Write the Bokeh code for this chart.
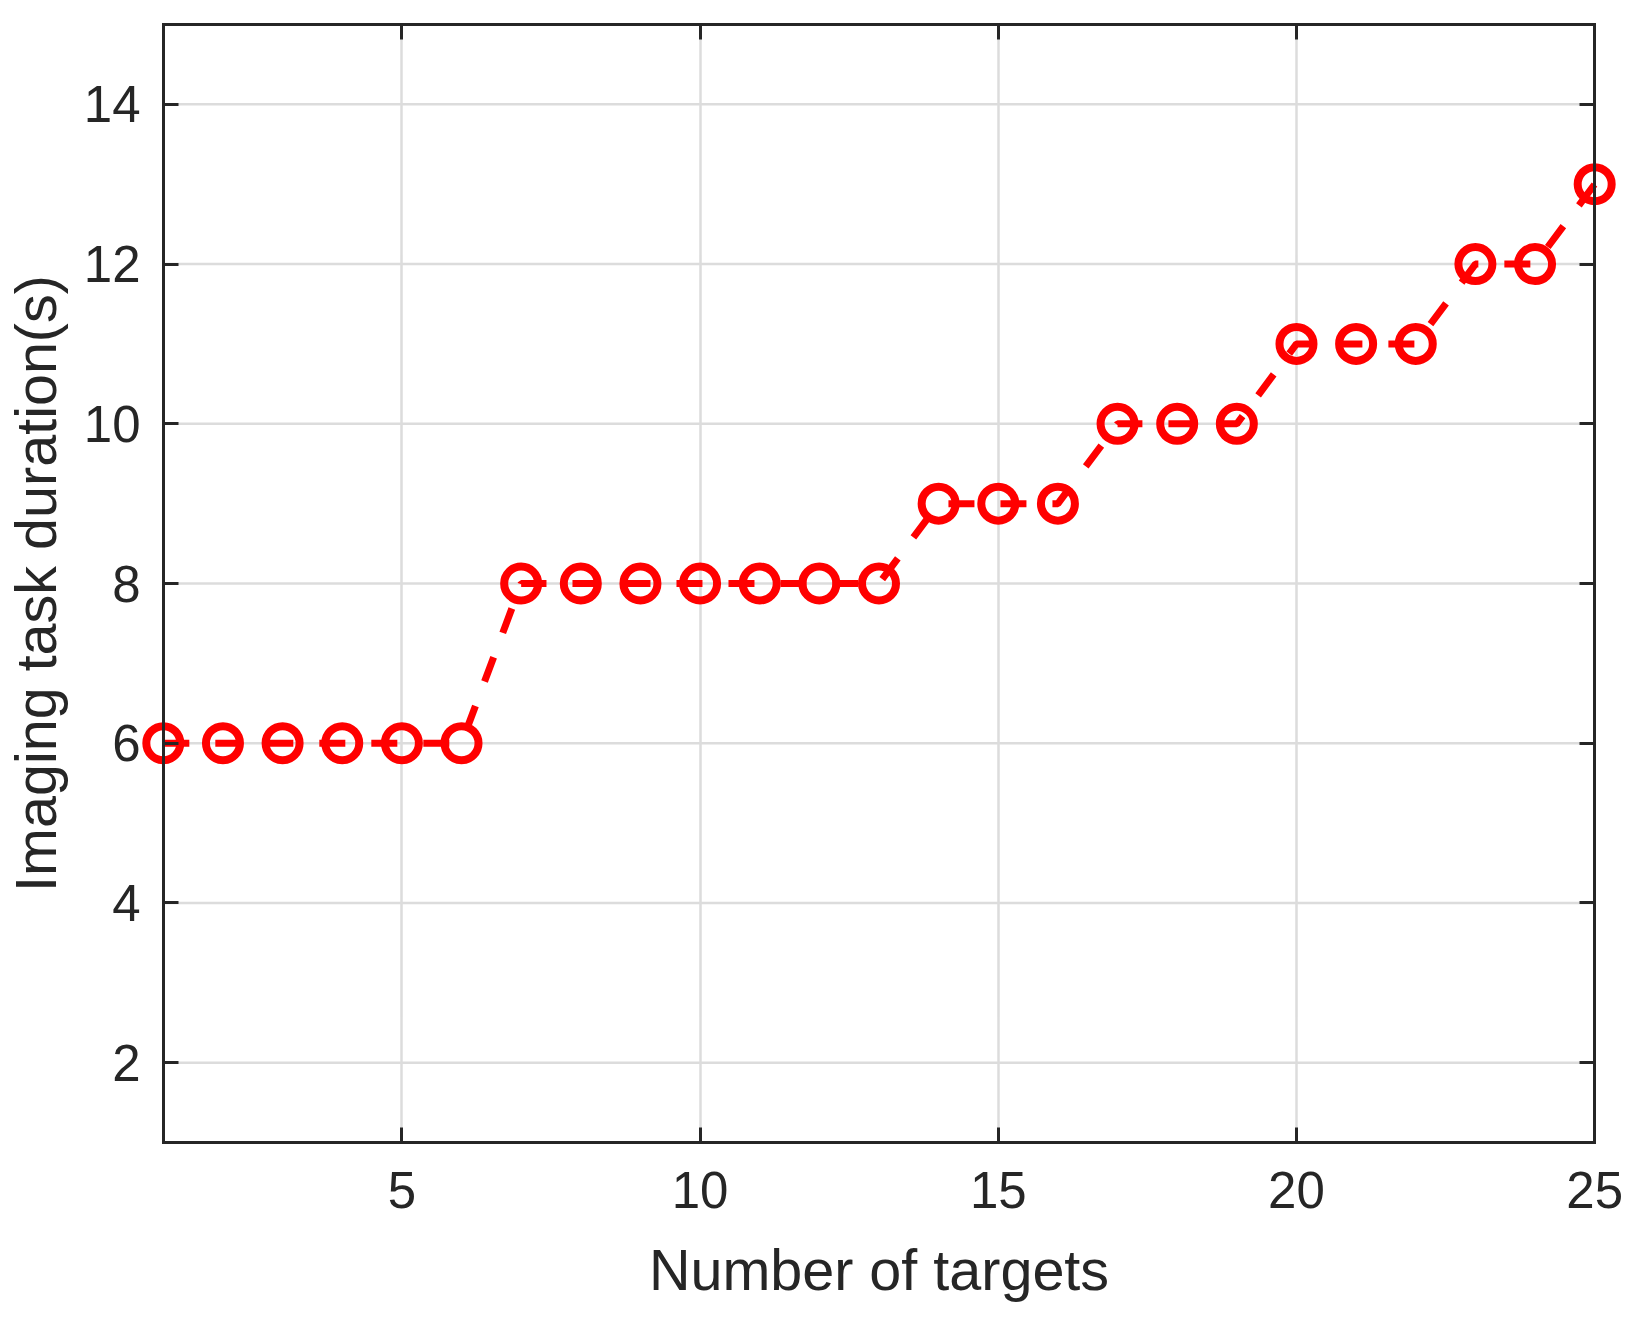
from bokeh.plotting import figure
from bokeh.models import LinearAxis, FixedTicker, Range1d
from bokeh.embed import file_html
from bokeh.resources import INLINE

# Data
num_targets = list(range(1, 26))
durations = [6, 6, 6, 6, 6, 6, 8, 8, 8, 8, 8, 8, 8, 9, 9, 9, 10, 10, 10, 11, 11, 11, 12, 12, 13]
x_ticks = [5, 10, 15, 20, 25]
y_ticks = [2, 4, 6, 8, 10, 12, 14]
x_min, x_max = 1, 25
y_min, y_max = 1, 15

DARK = "#262626"
FONT = "Liberation Sans"
GRID = "#dcdcdc"
XPAD = 0.5  # extra room so edge markers are not clipped by the frame

p = figure(width=1645, height=1323, output_backend="svg", toolbar_location=None,
           x_range=Range1d(x_min - XPAD, x_max + XPAD), y_range=Range1d(y_min, y_max),
           min_border_left=132, min_border_right=21, min_border_top=24, min_border_bottom=181)
p.background_fill_color = "white"
p.border_fill_color = "white"
p.outline_line_color = None

def style_line_ticks(ax):
    ax.axis_line_color = DARK
    ax.axis_line_width = 3
    ax.axis_line_cap = "square"
    ax.major_tick_in = 15
    ax.major_tick_out = 0
    ax.minor_tick_in = 0
    ax.minor_tick_out = 0
    ax.major_tick_line_color = DARK
    ax.major_tick_line_width = 3

def no_labels(ax):
    ax.major_label_text_font_size = "0px"
    ax.major_label_standoff = 0

def labels(ax, standoff):
    ax.major_label_text_font = FONT
    ax.major_label_text_color = DARK
    ax.major_label_text_font_size = "51px"
    ax.major_label_standoff = standoff
    ax.axis_label_text_font = FONT
    ax.axis_label_text_font_size = "57.5px"
    ax.axis_label_text_font_style = "normal"
    ax.axis_label_text_color = DARK

# bottom axis: line, ticks, labels
xa = p.xaxis[0]
xa.ticker = FixedTicker(ticks=x_ticks)
xa.bounds = (x_min, x_max)
style_line_ticks(xa)
labels(xa, 29)
xa.axis_label = "Number of targets"
xa.axis_label_standoff = 27

# left labels axis (no line / ticks): text only
ya = p.yaxis[0]
ya.ticker = FixedTicker(ticks=y_ticks)
ya.axis_line_color = None
ya.major_tick_line_color = None
ya.major_tick_in = 0
ya.major_tick_out = 0
ya.minor_tick_in = 0
ya.minor_tick_out = 0
labels(ya, -7)
ya.axis_label = "Imaging task duration(s)"
ya.axis_label_standoff = 13

# left box side at x = 1
left_box = LinearAxis(ticker=FixedTicker(ticks=y_ticks), fixed_location=x_min, bounds=(y_min, y_max))
style_line_ticks(left_box)
no_labels(left_box)
p.add_layout(left_box, "left")

# top box side
top = LinearAxis(ticker=FixedTicker(ticks=x_ticks), bounds=(x_min, x_max))
style_line_ticks(top)
no_labels(top)
p.add_layout(top, "above")

# right box side at x = 25
right = LinearAxis(ticker=FixedTicker(ticks=y_ticks), fixed_location=x_max, bounds=(y_min, y_max))
style_line_ticks(right)
no_labels(right)
p.add_layout(right, "right")

p.xgrid.ticker = FixedTicker(ticks=x_ticks)
p.xgrid.grid_line_color = GRID
p.xgrid.grid_line_width = 2.5
p.ygrid.visible = False
p.segment(x0=[x_min] * len(y_ticks), y0=y_ticks, x1=[x_max] * len(y_ticks), y1=y_ticks,
          line_color=GRID, line_width=2.5, level="underlay")

p.line(num_targets, durations, line_color="#ff0000", line_width=7, line_dash="26 26")
p.scatter(num_targets, durations, marker="circle", size=34, fill_color=None,
          line_color="#ff0000", line_width=8)

open("out.html", "w").write(file_html(p, INLINE))
